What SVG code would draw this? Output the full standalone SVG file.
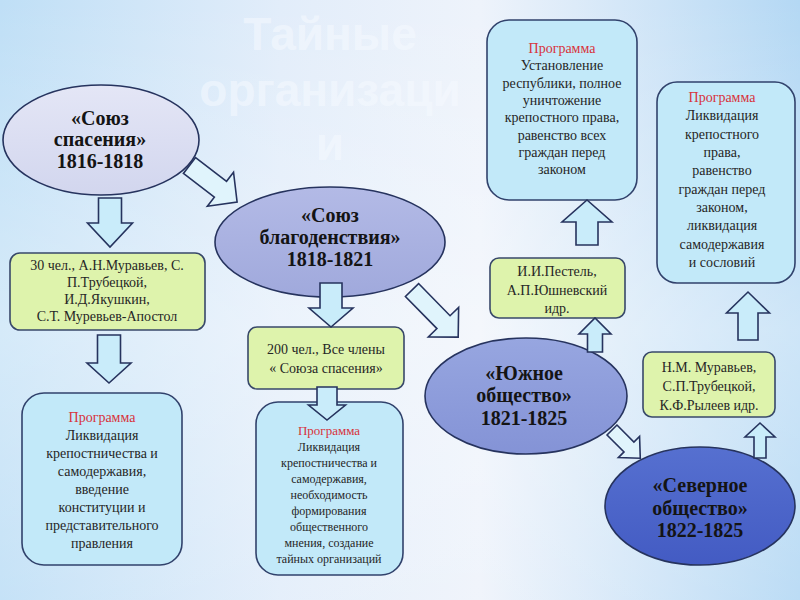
<svg xmlns="http://www.w3.org/2000/svg" width="800" height="600" viewBox="0 0 800 600">
<defs>
<linearGradient id="bg" x1="0" y1="0" x2="1" y2="0">
<stop offset="0" stop-color="#bfdff6"/>
<stop offset="0.35" stop-color="#e2edfa"/>
<stop offset="0.6" stop-color="#eef3fb"/>
<stop offset="1" stop-color="#b4d8f4"/>
</linearGradient>
<linearGradient id="bg2" x1="0" y1="0" x2="0" y2="1">
<stop offset="0" stop-color="#ffffff" stop-opacity="0"/>
<stop offset="0.55" stop-color="#ffffff" stop-opacity="0.35"/>
<stop offset="1" stop-color="#ffffff" stop-opacity="0.1"/>
</linearGradient>
<linearGradient id="g1" x1="0" y1="0" x2="0" y2="1"><stop offset="0" stop-color="#e4e6f6"/><stop offset="1" stop-color="#d2d6ee"/></linearGradient>
<linearGradient id="g2" x1="0" y1="0" x2="0" y2="1"><stop offset="0" stop-color="#b3bae6"/><stop offset="1" stop-color="#a0a9dc"/></linearGradient>
<linearGradient id="g3" x1="0" y1="0" x2="0" y2="1"><stop offset="0" stop-color="#97a6e0"/><stop offset="1" stop-color="#8493d6"/></linearGradient>
<linearGradient id="g4" x1="0" y1="0" x2="0" y2="1"><stop offset="0" stop-color="#5670d0"/><stop offset="1" stop-color="#435bc3"/></linearGradient>
</defs>
<style>
.ell{stroke:#26335e;stroke-width:1.6}
.et{font-family:"Liberation Serif",serif;font-weight:bold;font-size:20px;fill:#141414;text-anchor:middle}
.gb{fill:#def3ac;stroke:#384869;stroke-width:1.6}
.pb{fill:#c2e9f9;stroke:#31426c;stroke-width:1.6}
.t{font-family:"Liberation Serif",serif;font-size:14px;fill:#262626;text-anchor:middle}
.ts{font-family:"Liberation Serif",serif;font-size:12px;fill:#262626;text-anchor:middle}
.red{fill:#d8323b}
.arr{fill:#c9ecfa;stroke:#26335e;stroke-width:1.6;stroke-linejoin:miter}
.arrl{fill:#e0f4fc;stroke:#26335e;stroke-width:1.6;stroke-linejoin:miter}
.title{font-family:"Liberation Sans",Arial,sans-serif;font-weight:bold;font-size:46px;fill:#f6faff;fill-opacity:0.55;text-anchor:middle}
</style>
<rect width="800" height="600" fill="url(#bg)"/>
<rect width="800" height="600" fill="url(#bg2)"/>
<g id="title">
<text class="title" x="330" y="50">Тайные</text>
<text class="title" x="330" y="106">организаци</text>
<text class="title" x="330" y="160">и</text>
</g>

<g id="soyuz-spaseniya">
<ellipse class="ell" cx="101" cy="140" rx="98" ry="55" fill="url(#g1)"/>
<text class="et" x="100" y="125">«Союз</text>
<text class="et" x="100" y="146">спасения»</text>
<text class="et" x="100" y="168">1816-1818</text>
</g>
<g id="soyuz-blagodenstviya">
<ellipse class="ell" cx="330" cy="242" rx="115" ry="55" fill="url(#g2)"/>
<text class="et" x="330" y="222">«Союз</text>
<text class="et" x="330" y="244">благоденствия»</text>
<text class="et" x="330" y="266">1818-1821</text>
</g>
<g id="yuzhnoe">
<ellipse class="ell" cx="526" cy="396" rx="101" ry="58" fill="url(#g3)"/>
<text class="et" x="524" y="380">«Южное</text>
<text class="et" x="524" y="402">общество»</text>
<text class="et" x="524" y="425">1821-1825</text>
</g>
<g id="severnoe">
<ellipse class="ell" cx="700" cy="506" rx="95" ry="59" fill="url(#g4)"/>
<text class="et" x="700" y="492">«Северное</text>
<text class="et" x="700" y="515">общество»</text>
<text class="et" x="700" y="537">1822-1825</text>
</g>

<g id="members-spaseniya">
<rect class="gb" x="10" y="253" width="195" height="77" rx="10"/>
<text class="t" x="107" y="270">30 чел., А.Н.Муравьев, С.</text>
<text class="t" x="107" y="287">П.Трубецкой,</text>
<text class="t" x="107" y="304">И.Д.Якушкин,</text>
<text class="t" x="107" y="321">С.Т. Муревьев-Апостол</text>
</g>
<g id="members-blagodenstviya">
<rect class="gb" x="248" y="327" width="156" height="62" rx="9"/>
<text class="t" x="326" y="354">200 чел., Все члены</text>
<text class="t" x="326" y="373">« Союза спасения»</text>
</g>
<g id="members-yuzhnoe">
<rect class="gb" x="490" y="258" width="135" height="60" rx="9"/>
<text class="t" x="557" y="276">И.И.Пестель,</text>
<text class="t" x="557" y="295">А.П.Юшневский</text>
<text class="t" x="557" y="313">идр.</text>
</g>
<g id="members-severnoe">
<rect class="gb" x="643" y="352" width="132" height="65" rx="9"/>
<text class="t" x="709" y="372">Н.М. Муравьев,</text>
<text class="t" x="709" y="391">С.П.Трубецкой,</text>
<text class="t" x="709" y="410">К.Ф.Рылеев идр.</text>
</g>

<g id="program-spaseniya">
<rect class="pb" x="22" y="393" width="160" height="172" rx="22"/>
<text class="t red" x="102" y="422">Программа</text>
<text class="t" x="102" y="440">Ликвидация</text>
<text class="t" x="102" y="458">крепостничества и</text>
<text class="t" x="102" y="476">самодержавия,</text>
<text class="t" x="102" y="494">введение</text>
<text class="t" x="102" y="512">конституции и</text>
<text class="t" x="102" y="530">представительного</text>
<text class="t" x="102" y="548">правления</text>
</g>
<g id="program-blagodenstviya">
<rect class="pb" x="256" y="402" width="147" height="173" rx="22"/>
<text class="ts red" x="329" y="435" style="font-size:13px">Программа</text>
<text class="ts" x="329" y="451">Ликвидация</text>
<text class="ts" x="329" y="467">крепостничества и</text>
<text class="ts" x="329" y="483">самодержавия,</text>
<text class="ts" x="329" y="499">необходимость</text>
<text class="ts" x="329" y="515">формирования</text>
<text class="ts" x="329" y="531">общественного</text>
<text class="ts" x="329" y="547">мнения, создание</text>
<text class="ts" x="329" y="563">тайных организаций</text>
</g>
<g id="program-yuzhnoe">
<rect class="pb" x="487" y="20" width="150" height="180" rx="22"/>
<text class="t red" x="562" y="53">Программа</text>
<text class="t" x="562" y="70">Установление</text>
<text class="t" x="562" y="88">республики, полное</text>
<text class="t" x="562" y="105">уничтожение</text>
<text class="t" x="562" y="122">крепостного права,</text>
<text class="t" x="562" y="140">равенство всех</text>
<text class="t" x="562" y="157">граждан перед</text>
<text class="t" x="562" y="174">законом</text>
</g>
<g id="program-severnoe">
<rect class="pb" x="657" y="82" width="138" height="201" rx="20"/>
<text class="t red" x="722" y="102">Программа</text>
<text class="t" x="722" y="120">Ликвидация</text>
<text class="t" x="722" y="139">крепостного</text>
<text class="t" x="722" y="157">права,</text>
<text class="t" x="722" y="175">равенство</text>
<text class="t" x="722" y="194">граждан перед</text>
<text class="t" x="722" y="212">законом,</text>
<text class="t" x="722" y="230">ликвидация</text>
<text class="t" x="722" y="249">самодержавия</text>
<text class="t" x="722" y="267">и сословий</text>
</g>

<g id="connectors">
<polygon class="arr" transform="translate(110,198) rotate(90)" points="0,-11.5 25,-11.5 25,-22.5 49,0 25,22.5 25,11.5 0,11.5"/>
<polygon class="arr" transform="translate(109,335) rotate(90)" points="0,-11.5 28,-11.5 28,-22 48,0 28,22 28,11.5 0,11.5"/>
<polygon class="arrl" transform="translate(189.5,165.5) rotate(37.5)" points="0,-10 39,-10 39,-21.5 60,0 39,21.5 39,10 0,10"/>
<polygon class="arr" transform="translate(331,283) rotate(90)" points="0,-11 25,-11 25,-22 44,0 25,22 25,11 0,11"/>
<polygon class="arr" transform="translate(327,387) rotate(90)" points="0,-10 18,-10 18,-18.5 33,0 18,18.5 18,10 0,10"/>
<polygon class="arrl" transform="translate(412,290) rotate(45.6)" points="0,-9.2 45,-9.2 45,-21.2 66,0 45,21.2 45,9.2 0,9.2"/>
<polygon class="arr" transform="translate(595,352) rotate(-90)" points="0,-7.5 18,-7.5 18,-16 34,0 18,16 18,7.5 0,7.5"/>
<polygon class="arr" transform="translate(587,245) rotate(-90)" points="0,-11 23,-11 23,-25 45,0 23,25 23,11 0,11"/>
<polygon class="arrl" transform="translate(612,430) rotate(45)" points="0,-7 24,-7 24,-15 40,0 24,15 24,7 0,7"/>
<polygon class="arr" transform="translate(760,458) rotate(-90)" points="0,-6 21,-6 21,-15 35,0 21,15 21,6 0,6"/>
<polygon class="arr" transform="translate(748,340) rotate(-90)" points="0,-10 27,-10 27,-21.5 48,0 27,21.5 27,10 0,10"/>
</g>
</svg>
